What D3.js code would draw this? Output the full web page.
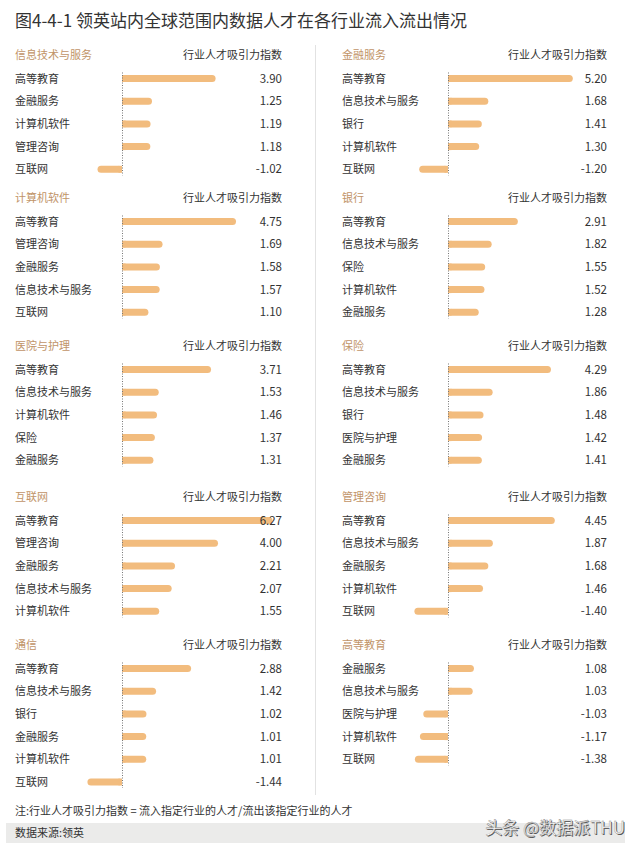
<!DOCTYPE html>
<html>
<head>
<meta charset="utf-8">
<script src="https://cdn.jsdelivr.net/npm/d3@7"></script>
<style>
  body { margin: 0; background: #fff; }
  svg text { font-family: "Noto Sans CJK SC", "Noto Sans", sans-serif; }
</style>
</head>
<body>
<div id="chart"></div>
<script>
// panels: left column first (top to bottom), then right column
const panelTitles = ["信息技术与服务", "计算机软件", "医院与护理", "互联网", "通信",
                     "金融服务", "银行", "保险", "管理咨询", "高等教育"];

const panelCategories = [
  ["高等教育", "金融服务", "计算机软件", "管理咨询", "互联网"],
  ["高等教育", "管理咨询", "金融服务", "信息技术与服务", "互联网"],
  ["高等教育", "信息技术与服务", "计算机软件", "保险", "金融服务"],
  ["高等教育", "管理咨询", "金融服务", "信息技术与服务", "计算机软件"],
  ["高等教育", "信息技术与服务", "银行", "金融服务", "计算机软件", "互联网"],
  ["高等教育", "信息技术与服务", "银行", "计算机软件", "互联网"],
  ["高等教育", "信息技术与服务", "保险", "计算机软件", "金融服务"],
  ["高等教育", "信息技术与服务", "银行", "医院与护理", "金融服务"],
  ["高等教育", "信息技术与服务", "金融服务", "计算机软件", "互联网"],
  ["金融服务", "信息技术与服务", "医院与护理", "计算机软件", "互联网"]
];

const panelValues = [
  [3.90, 1.25, 1.19, 1.18, -1.02],
  [4.75, 1.69, 1.58, 1.57, 1.10],
  [3.71, 1.53, 1.46, 1.37, 1.31],
  [6.27, 4.00, 2.21, 2.07, 1.55],
  [2.88, 1.42, 1.02, 1.01, 1.01, -1.44],
  [5.20, 1.68, 1.41, 1.30, -1.20],
  [2.91, 1.82, 1.55, 1.52, 1.28],
  [4.29, 1.86, 1.48, 1.42, 1.41],
  [4.45, 1.87, 1.68, 1.46, -1.40],
  [1.08, 1.03, -1.03, -1.17, -1.38]
];

const titleText = "图4-4-1 领英站内全球范围内数据人才在各行业流入流出情况";
const headerText = "行业人才吸引力指数";
const noteText = "注:行业人才吸引力指数 = 流入指定行业的人才/流出该指定行业的人才";
const sourceText = "数据来源:领英";
const watermarkText = "头条 @数据派THU";

const width = 640, height = 850;
const barColor = "#f2bc7e", titleColor = "#c19468", textColor = "#333";
const columns = [
  { labelX: 15, zeroX: 122, valueX: 282 },
  { labelX: 342, zeroX: 448, valueX: 607 }
];
const panelTops = [55, 198, 346, 497, 645];
const rowStep = 22.7, barH = 7;

const svg = d3.select("#chart").append("svg")
  .attr("width", width).attr("height", height);

svg.append("text")
  .attr("x", 15).attr("y", 27)
  .attr("font-size", 17).attr("fill", "#333")
  .text(titleText);

// column divider
svg.append("line")
  .attr("x1", 315.5).attr("x2", 315.5)
  .attr("y1", 45).attr("y2", 795)
  .attr("stroke", "#e2e2e2");

panelTitles.forEach((title, i) => {
  const col = columns[Math.floor(i / 5)];
  const top = panelTops[i % 5];
  const cats = panelCategories[i];
  const vals = panelValues[i];

  const x = d3.scaleLinear().domain([0, 1]).range([col.zeroX, col.zeroX + 24]);
  const y = d3.scalePoint().domain(d3.range(cats.length))
    .range([top + 23.5, top + 23.5 + (cats.length - 1) * rowStep]);

  const g = svg.append("g");

  g.append("text")
    .attr("x", col.labelX).attr("y", top + 4)
    .attr("font-size", 11).attr("fill", titleColor)
    .text(title);

  g.append("text")
    .attr("x", col.valueX).attr("y", top + 4)
    .attr("text-anchor", "end")
    .attr("font-size", 11).attr("fill", textColor)
    .text(headerText);

  const rows = g.selectAll("g.row")
    .data(vals.map((v, j) => ({ v, c: cats[j], j })))
    .join("g").attr("class", "row");

  rows.append("text")
    .attr("x", col.labelX).attr("y", d => y(d.j) + 4)
    .attr("font-size", 11).attr("fill", textColor)
    .text(d => d.c);

  // bar with rounded outer end
  rows.append("rect")
    .attr("x", d => Math.min(x(0), x(d.v)))
    .attr("y", d => y(d.j) - barH / 2)
    .attr("width", d => Math.abs(x(d.v) - x(0)))
    .attr("height", barH)
    .attr("rx", barH / 2)
    .attr("fill", barColor);
  rows.append("rect")
    .attr("x", d => d.v >= 0 ? x(0) : x(0) - barH / 2)
    .attr("y", d => y(d.j) - barH / 2)
    .attr("width", barH / 2)
    .attr("height", barH)
    .attr("fill", barColor);

  rows.append("text")
    .attr("x", col.valueX).attr("y", d => y(d.j) + 4)
    .attr("text-anchor", "end")
    .attr("font-size", 11.5).attr("fill", textColor)
    .text(d => d.v.toFixed(2));

  // dotted zero line
  g.append("line")
    .attr("x1", x(0) + 0.5).attr("x2", x(0) + 0.5)
    .attr("y1", y(0) - 6).attr("y2", y(cats.length - 1) + 6)
    .attr("stroke", "#777").attr("stroke-width", 1)
    .attr("stroke-dasharray", "1,1.5");
});

svg.append("text")
  .attr("x", 15).attr("y", 815)
  .attr("font-size", 11).attr("fill", textColor)
  .text(noteText);

svg.append("rect")
  .attr("x", 6).attr("y", 823)
  .attr("width", 619).attr("height", 20)
  .attr("fill", "#ebebea");

svg.append("text")
  .attr("x", 15).attr("y", 837)
  .attr("font-size", 11).attr("fill", textColor)
  .text(sourceText);

// watermark
svg.append("text")
  .attr("x", 626).attr("y", 835)
  .attr("text-anchor", "end")
  .attr("font-size", 17).attr("fill", "#555")
  .text(watermarkText);
svg.append("text")
  .attr("x", 625).attr("y", 834)
  .attr("text-anchor", "end")
  .attr("font-size", 17).attr("fill", "#fff")
  .attr("stroke", "#888").attr("stroke-width", 0.4)
  .text(watermarkText);
</script>
</body>
</html>
